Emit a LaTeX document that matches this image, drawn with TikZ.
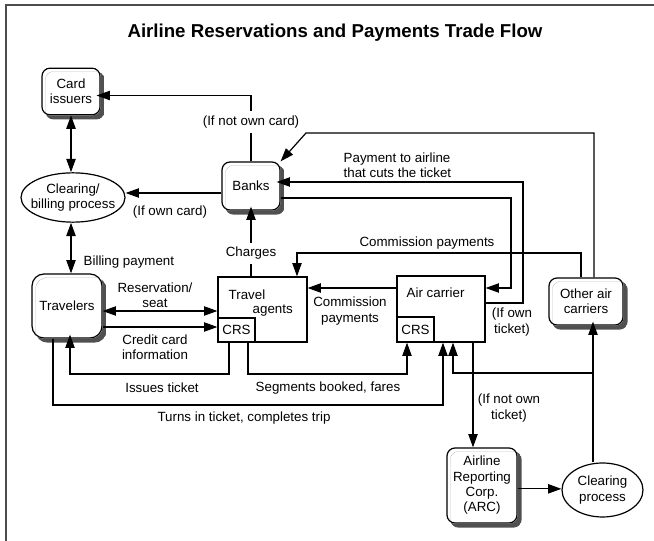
\documentclass[tikz,border=0pt]{standalone}
\usepackage{fontspec}
\setmainfont{Liberation Sans}
\usetikzlibrary{arrows.meta,shapes.geometric}
\definecolor{shadowgray}{RGB}{80,80,80}

\begin{document}
\begin{tikzpicture}[>={Triangle[length=10pt,width=7pt]},x=0.75pt,y=-0.75pt,
  every node/.style={font=\fontsize{10}{11.5}\selectfont},
  flow/.style={line width=0.9pt},
  toshadow/.style={shorten >=-3pt},
  party/.style={draw,line width=0.9pt,rounded corners=6pt,fill=white,align=center},
  dropbox/.style={fill=shadowgray,even odd rule},
  proc/.style={draw,ellipse,line width=0.9pt,fill=white,align=center,inner xsep=-6pt,inner ysep=0pt},
  firm/.style={draw,line width=0.9pt,fill=white},
  lbl/.style={align=center}]
  \useasboundingbox (0,0) rectangle (654,541);
  % Rahmen und Titel
  \draw[line width=1pt,black!70] (6,541) -- (6,5) -- (654,5);
  \node[font=\bfseries\fontsize{14}{16}\selectfont] (title) at (335,33) {Airline Reservations and Payments Trade Flow};
  % Beteiligte
  \node[party,minimum width=43.5pt,minimum height=35pt] (card) at (71,91.5) {Card\\issuers};
  \node[proc,minimum width=78pt,minimum height=37pt] (billing) at (73,197.5) {Clearing/\\billing process};
  \node[party,minimum width=43.5pt,minimum height=36pt] (banks) at (251,186) {Banks};
  \node[party,rounded corners=9pt,minimum width=52.5pt,minimum height=48pt] (trav) at (67,306) {Travelers};
  \node[firm,minimum width=66.75pt,minimum height=48.75pt] (agents) at (262.5,309.5) {};
  \node[anchor=west] (agentsA) at (224,295) {Travel};
  \node[anchor=west] (agentsB) at (248,311) {agents};
  \node[firm,minimum width=27pt,minimum height=18pt,anchor=south west] (crsA) at (agents.south west) {CRS};
  \node[firm,minimum width=66pt,minimum height=49.5pt] (air) at (441,309) {};
  \node[anchor=west] (airT) at (402,293) {Air carrier};
  \node[firm,minimum width=27pt,minimum height=18.75pt,anchor=south west] (crsB) at (air.south west) {CRS};
  \node[party,minimum width=55.5pt,minimum height=35.25pt] (other) at (586,301.5) {Other air\\carriers};
  \node[party,minimum width=52.5pt,minimum height=56.25pt] (arc) at (482,485.5) {Airline\\Reporting\\Corp.\\(ARC)};
  \node[proc,minimum width=60.75pt,minimum height=40.5pt] (clear) at (602.5,490) {Clearing\\process};
  % Schatten
  \foreach \n/\r in {card/6pt,banks/6pt,other/6pt,arc/6pt,trav/9pt} {
    \begin{scope}[rounded corners=\r]
      \clip ([shift={(3pt,-3pt)}]\n.south west) rectangle ([shift={(3pt,-3pt)}]\n.north east);
      \fill[dropbox] ([shift={(3pt,-3pt)}]\n.south west) rectangle ([shift={(3pt,-3pt)}]\n.north east)
        (\n.south west) rectangle (\n.north east);
    \end{scope}
  }
  % Hilfspunkte
  \coordinate (topR) at (594,133);
  \coordinate (topL) at (306,133);
  \coordinate (payR) at (523,182);
  \coordinate (ownT) at (511,198);
  \coordinate (ownB) at (511,288);
  \coordinate (comR) at (581,253);
  \coordinate (comL) at (297,253);
  \coordinate (issR) at (229,374);
  \coordinate (issL) at (70,374);
  \coordinate (segL) at (248,374);
  \coordinate (segR) at (407,374);
  \coordinate (turnL) at (53,405);
  \coordinate (turnR) at (443,405);
  \coordinate (brR) at (593,373);
  \coordinate (brL) at (453,373);
  % Karten und Banken
  \draw[flow,->,toshadow] (banks.north) -- node[fill=white,pos=0.6] (lblNotOwn) {(If not own card)} ([yshift=-3pt]banks.north |- card.east) -- ([yshift=-3pt]card.east);
  \draw[flow,->] ([yshift=-5.25pt]banks.west) -- ([yshift=-5.25pt]banks.west -| billing.east);
  \node (lblOwnCard) at (170,212) {(If own card)};
  \draw[flow,<->] (card.south) -- (card.south |- billing.north);
  \draw[flow,<->] ([xshift=-1.5pt]billing.south) -- ([xshift=-1.5pt]billing.south |- trav.north);
  \node[anchor=west] (lblBill) at (79,262) {Billing payment};
  \draw[flow,->,toshadow] (banks.south |- agents.north) -- node[fill=white,pos=0.35] (lblCharges) {Charges} (banks.south);
  % Zahlungen der Fluggesellschaften
  \draw[flow,->] (topR |- other.north) -- (topR) -- (topL) -- (banks.north east);
  \draw[flow,->,toshadow] ([yshift=4.5pt]air.east) -| (payR) -- (payR -| banks.east);
  \node[lbl,anchor=west,align=left] (lblPay) at (339,165) {Payment to airline\\that cuts the ticket};
  \draw[flow,->] (ownT -| banks.east) -- (ownT) -- (ownB) -- (ownB -| air.east);
  \node[lbl] (lblOwn) at (512,322) {(If own\\ticket)};
  \draw[flow,->] (comR |- other.north) -- (comR) -- (comL) -- (comL |- agents.north);
  \node (lblComTop) at (427,243) {Commission payments};
  \draw[flow,->] ([yshift=15.75pt]air.west) -- ([yshift=15.75pt]air.west -| agents.east);
  \node[lbl] (lblCom) at (350,311) {Commission\\payments};
  % Reisende
  \draw[flow,<->] ([yshift=-3.75pt]trav.east) -- ([yshift=-3.75pt]trav.east -| agents.west);
  \node[lbl] (lblRes) at (155,295) {Reservation/\\seat};
  \draw[flow,->] ([yshift=-15.75pt]trav.east) -- ([yshift=-15.75pt]trav.east -| crsA.west);
  \node[lbl] (lblCredit) at (155,347) {Credit card\\information};
  \draw[flow,->,toshadow] (issR |- crsA.south) -- (issR) -- (issL) -- (issL |- trav.south);
  \node (lblIssue) at (162,388) {Issues ticket};
  \draw[flow,->] (segL |- crsA.south) -- (segL) -- (segR) -- (segR |- crsB.south);
  \node (lblSeg) at (328,388) {Segments booked, fares};
  \draw[flow,->] (turnL |- trav.south) -- (turnL) -- (turnR) -- (turnR |- air.south);
  \node (lblTurns) at (244,418) {Turns in ticket, completes trip};
  % Abrechnung
  \draw[flow,->,toshadow] (brR |- clear.north) -- (brR |- other.south);
  \draw[flow,->] (brR) -- (brL) -- (brL |- air.south);
  \draw[flow,->] ([xshift=24pt]air.south) -- ([xshift=24pt]air.south |- arc.north);
  \node[lbl] (lblNotTicket) at (509,408) {(If not own\\ticket)};
  \draw[flow,->] ([yshift=-2.5pt]arc.east) -- ([yshift=-2.5pt]arc.east -| clear.west);
\end{tikzpicture}
\end{document}
